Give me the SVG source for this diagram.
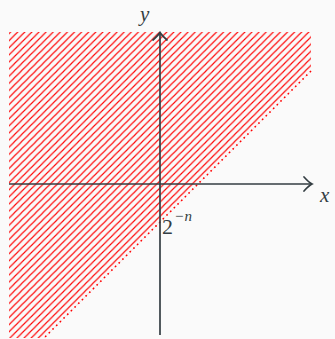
<svg xmlns="http://www.w3.org/2000/svg" width="335" height="339" viewBox="0 0 335 339">
<style>
.axis{stroke:#333d42;stroke-width:1.7;fill:none}
.head{stroke:#333d42;stroke-width:1.7;fill:none;stroke-linecap:round}
.lbl{font-family:"Liberation Serif","DejaVu Serif",serif;font-style:italic;fill:#333d42}
.num{font-family:"Liberation Serif","DejaVu Serif",serif;fill:#333d42}
</style>
<defs>
<pattern id="hatch" patternUnits="userSpaceOnUse" width="7.1" height="7.1">
<path d="M-1,1 L1,-1 M0,7.1 L7.1,0 M6.1,8.1 L8.1,6.1" stroke="#ff0000" stroke-width="1.1"/>
</pattern>
</defs>
<rect width="335" height="339" fill="#fafafa"/>
<g id="region">
<polygon points="9,32 311,32 311,71 44,338 9,338" fill="url(#hatch)"/>
<line x1="311" y1="71" x2="44" y2="338" stroke="#ff0000" stroke-width="1.6" stroke-dasharray="1.6 3.6"/>
</g>
<g id="connectors">
<line class="axis" x1="9" y1="184" x2="311" y2="184"/>
<path class="head" d="M304,177 Q309,182.5 312,184 Q309,185.5 304,191"/>
<line class="axis" x1="160" y1="335" x2="160" y2="33"/>
<path class="head" d="M153,40 Q158.5,35 160,32.5 Q161.5,35 167,40"/>
</g>
<g id="labels">
<text class="lbl" x="140" y="21" font-size="21">y</text>
<text class="lbl" x="320" y="202" font-size="21">x</text>
<text class="num" x="162" y="234" font-size="22">2</text>
<text class="num" x="175" y="221" font-size="15">−<tspan font-style="italic" dx="1">n</tspan></text>
</g>
</svg>
